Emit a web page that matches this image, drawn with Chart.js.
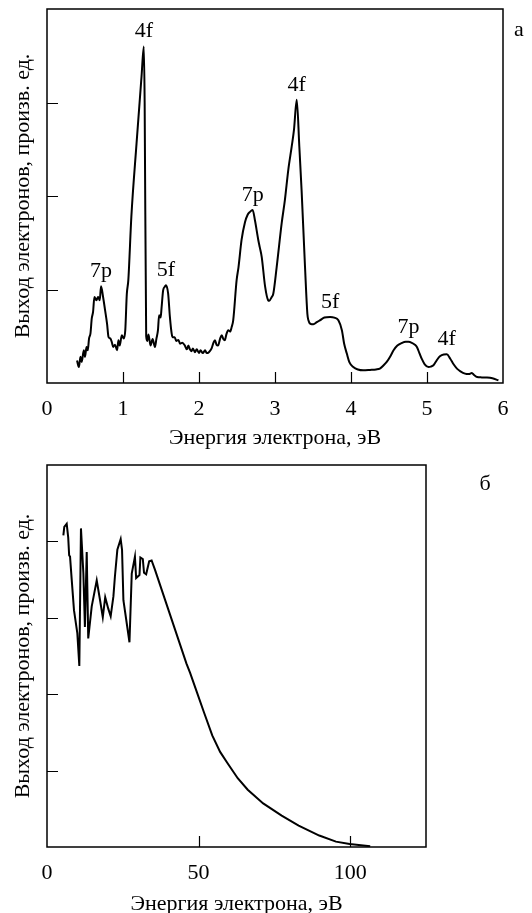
<!DOCTYPE html>
<html lang="ru">
<head>
<meta charset="utf-8">
<title>Выход электронов</title>
<script src="https://cdn.jsdelivr.net/npm/chart.js@4.4.0/dist/chart.umd.min.js"></script>
<style>
  html, body { margin: 0; padding: 0; background: #fff; overflow: hidden; }
  canvas { position: absolute; left: 0; }
  #chartA { top: 0; }
  #chartB { top: 455px; }
</style>
</head>
<body>
<canvas id="chartA" width="532" height="455"></canvas>
<canvas id="chartB" width="532" height="470"></canvas>
<script>
// panel а: low-energy spectrum, eV
const energyA = [
  0.395, 0.42, 0.44, 0.457, 0.484, 0.50, 0.52, 0.536, 0.553, 0.572,
  0.589, 0.606, 0.624, 0.65, 0.672, 0.694, 0.711, 0.738, 0.764, 0.79,
  0.81, 0.835, 0.855, 0.87, 0.895, 0.922, 0.94, 0.957, 0.984, 1.01,
  1.03, 1.05, 1.07, 1.11, 1.178, 1.244, 1.274, 1.285, 1.305, 1.32,
  1.335, 1.362, 1.39, 1.42, 1.44, 1.46, 1.475, 1.495, 1.507, 1.528,
  1.55, 1.564, 1.594, 1.617, 1.64, 1.652, 1.68, 1.70, 1.73, 1.75,
  1.78, 1.814, 1.84, 1.86, 1.88, 1.90, 1.92, 1.946, 1.97, 2.00,
  2.02, 2.05, 2.08, 2.10, 2.13, 2.166, 2.19, 2.21, 2.23, 2.25,
  2.28, 2.30, 2.32, 2.34, 2.36, 2.385, 2.41, 2.43, 2.45, 2.495,
  2.52, 2.56, 2.605, 2.64, 2.67, 2.706, 2.736, 2.78, 2.80, 2.825,
  2.87, 2.91, 2.925, 2.957, 2.978, 3.022, 3.088, 3.13, 3.175, 3.22,
  3.25, 3.286, 3.32, 3.35, 3.395, 3.426, 3.44, 3.47, 3.505, 3.55,
  3.59, 3.65, 3.725, 3.78, 3.834, 3.88, 3.91, 3.945, 3.98, 4.03,
  4.09, 4.16, 4.25, 4.33, 4.38, 4.43, 4.47, 4.52, 4.56, 4.61,
  4.67, 4.72, 4.756, 4.80, 4.84, 4.867, 4.90, 4.93, 4.97, 5.02,
  5.05, 5.085, 5.13, 5.17, 5.22, 5.26, 5.306, 5.35, 5.394, 5.44,
  5.50, 5.55, 5.59, 5.62, 5.66, 5.72, 5.79, 5.86, 5.94
];
const yieldA = [
  0.24, 0.17, 0.28, 0.225, 0.35, 0.28, 0.385, 0.35, 0.475, 0.53,
  0.69, 0.76, 0.92, 0.885, 0.92, 0.885, 1.035, 0.92, 0.78, 0.635,
  0.49, 0.475, 0.43, 0.385, 0.41, 0.35, 0.457, 0.40, 0.51, 0.475,
  0.565, 0.95, 1.10, 1.78, 2.56, 3.28, 3.60, 3.00, 0.50, 0.45,
  0.52, 0.40, 0.47, 0.385, 0.475, 0.565, 0.725, 0.70, 0.80, 0.99,
  1.03, 1.046, 0.957, 0.707, 0.53, 0.49, 0.49, 0.45, 0.46, 0.42,
  0.43, 0.40, 0.36, 0.40, 0.36, 0.34, 0.37, 0.33, 0.36, 0.32,
  0.35, 0.32, 0.35, 0.32, 0.33, 0.37, 0.43, 0.457, 0.41, 0.40,
  0.48, 0.51, 0.47, 0.457, 0.52, 0.565, 0.55, 0.60, 0.67, 1.10,
  1.24, 1.53, 1.72, 1.80, 1.83, 1.85, 1.74, 1.53, 1.45, 1.35,
  1.03, 0.885, 0.88, 0.92, 0.957, 1.24, 1.71, 1.956, 2.28, 2.53,
  2.71, 3.03, 2.53, 2.06, 1.24, 0.74, 0.67, 0.63, 0.628, 0.65,
  0.67, 0.70, 0.707, 0.70, 0.67, 0.565, 0.42, 0.315, 0.22, 0.171,
  0.145, 0.136, 0.14, 0.145, 0.154, 0.19, 0.225, 0.29, 0.35, 0.40,
  0.428, 0.44, 0.44, 0.43, 0.41, 0.385, 0.32, 0.26, 0.20, 0.171,
  0.175, 0.19, 0.245, 0.285, 0.305, 0.307, 0.26, 0.20, 0.154, 0.125,
  0.10, 0.095, 0.107, 0.085, 0.064, 0.06, 0.058, 0.05, 0.029
];

// level assignments of the peaks in panel а
const peakNames = ['7p', '4f', '5f', '7p', '4f', '5f', '7p', '4f'];
const peakEnergy = [0.711, 1.274, 1.564, 2.706, 3.286, 3.725, 4.756, 5.26];
const peakYield = [1.035, 3.60, 1.046, 1.85, 3.03, 0.707, 0.44, 0.307];

// panel б: wide energy range, eV
const energyB = [
  5.4, 5.7, 6.5, 7.0, 7.3, 7.6, 8.15, 8.9, 10.0, 10.66,
  11.2, 12.0, 12.5, 13.1, 13.6, 14.75, 16.4, 17.5, 18.4, 19.2,
  20.2, 21.0, 21.9, 22.4, 23.2, 24.3, 24.75, 25.2, 27.2, 27.95,
  29.0, 29.4, 30.5, 30.8, 31.6, 32.0, 32.7, 33.7, 34.5, 35.6,
  46.0, 47.2, 49.4, 51.7, 54.5, 57.1, 59.5, 62.9, 66.2, 71.3,
  77.4, 83.0, 89.8, 95.3, 99.8, 106.6
];
const yieldB = [
  4.08, 4.19, 4.23, 4.05, 3.82, 3.80, 3.50, 3.10, 2.80, 2.37,
  4.17, 3.58, 2.88, 3.86, 2.73, 3.15, 3.49, 3.23, 3.01, 3.27,
  3.12, 3.02, 3.28, 3.54, 3.89, 4.03, 3.89, 3.23, 2.68, 3.58,
  3.80, 3.52, 3.56, 3.79, 3.77, 3.59, 3.57, 3.74, 3.75, 3.63,
  2.40, 2.28, 2.03, 1.77, 1.46, 1.245, 1.10, 0.90, 0.75, 0.57,
  0.41, 0.28, 0.15, 0.07, 0.04, 0.01
];

const xTitle = 'Энергия электрона, эВ';
const yTitle = 'Выход электронов, произв. ед.';

const SERIF = '"Liberation Serif", "Times New Roman", serif';
const FONT = { family: SERIF, size: 22 };

Chart.defaults.font.family = SERIF;
Chart.defaults.color = '#000';

// closed frame with short inward ticks, plus the panel letter
const framePlugin = {
  id: 'frame',
  afterDatasetsDraw(chart, args, opts) {
    const { ctx, chartArea: a, scales: { x, y } } = chart;
    ctx.save();
    ctx.strokeStyle = '#000';
    ctx.lineWidth = 1.5;
    ctx.strokeRect(a.left, a.top, a.right - a.left, a.bottom - a.top);
    ctx.lineWidth = 1.2;
    ctx.beginPath();
    x.ticks.forEach(t => {
      if (t.value <= x.min || t.value >= x.max) return;
      const px = Math.round(x.getPixelForValue(t.value)) + 0.5;
      ctx.moveTo(px, a.bottom);
      ctx.lineTo(px, a.bottom - 11);
    });
    y.ticks.forEach(t => {
      if (t.value <= y.min || t.value >= y.max) return;
      const py = Math.round(y.getPixelForValue(t.value)) + 0.5;
      ctx.moveTo(a.left, py);
      ctx.lineTo(a.left + 11, py);
    });
    ctx.stroke();
    ctx.font = FONT.size + 'px ' + SERIF;
    ctx.fillStyle = '#000';
    ctx.textAlign = 'center';
    ctx.textBaseline = 'middle';
    ctx.fillText(opts.letter, a.right + opts.dx, a.top + opts.dy);
    ctx.restore();
  }
};

// level names written just above their peaks
const peakPlugin = {
  id: 'peaks',
  afterDatasetsDraw(chart, args, opts) {
    if (!opts.names) return;
    const { ctx, scales: { x, y } } = chart;
    ctx.save();
    ctx.font = FONT.size + 'px ' + SERIF;
    ctx.fillStyle = '#000';
    ctx.textAlign = 'center';
    ctx.textBaseline = 'alphabetic';
    opts.names.forEach((name, i) => {
      ctx.fillText(name, x.getPixelForValue(opts.xs[i]), y.getPixelForValue(opts.ys[i]) - 9);
    });
    ctx.restore();
  }
};

function makePanel(id, xs, ys, cfg) {
  return new Chart(document.getElementById(id), {
    type: 'scatter',
    data: {
      datasets: [{
        data: xs.map((v, i) => ({ x: v, y: ys[i] })),
        showLine: true,
        borderColor: '#000',
        borderWidth: 2,
        pointRadius: 0,
        tension: 0,
        cubicInterpolationMode: cfg.smooth ? 'monotone' : 'default'
      }]
    },
    options: {
      responsive: false,
      animation: false,
      events: [],
      layout: { padding: { left: 0, top: cfg.top, right: cfg.right, bottom: 0 } },
      plugins: {
        legend: { display: false },
        tooltip: { enabled: false },
        frame: cfg.frame,
        peaks: cfg.peaks || {}
      },
      scales: {
        x: {
          type: 'linear',
          min: 0,
          max: cfg.xMax,
          grid: { display: false, drawTicks: false },
          border: { display: false },
          ticks: { stepSize: cfg.xStep, includeBounds: false, font: FONT, color: '#000', padding: 13, maxRotation: 0 },
          title: { display: true, text: xTitle, font: FONT, color: '#000', padding: { top: 0, bottom: cfg.titlePad } },
          afterFit(s) { s.height = cfg.xHeight; }
        },
        y: {
          type: 'linear',
          min: 0,
          max: cfg.yMax,
          grid: { display: false, drawTicks: false },
          border: { display: false },
          ticks: { stepSize: 1, display: false },
          title: { display: true, text: yTitle, font: FONT, color: '#000', padding: { top: 10, bottom: 0 } },
          afterFit(s) { s.width = 47; }
        }
      }
    },
    plugins: [framePlugin, peakPlugin]
  });
}

makePanel('chartA', energyA, yieldA, {
  smooth: true, xMax: 6, xStep: 1, yMax: 4,
  top: 9, right: 29, xHeight: 72, titlePad: 3.5,
  frame: { letter: 'а', dx: 16, dy: 21 },
  peaks: { names: peakNames, xs: peakEnergy, ys: peakYield }
});

makePanel('chartB', energyB, yieldB, {
  smooth: false, xMax: 125, xStep: 50, yMax: 5,
  top: 10, right: 106, xHeight: 78, titlePad: 7.5,
  frame: { letter: 'б', dx: 59, dy: 19 }
});
</script>
</body>
</html>
